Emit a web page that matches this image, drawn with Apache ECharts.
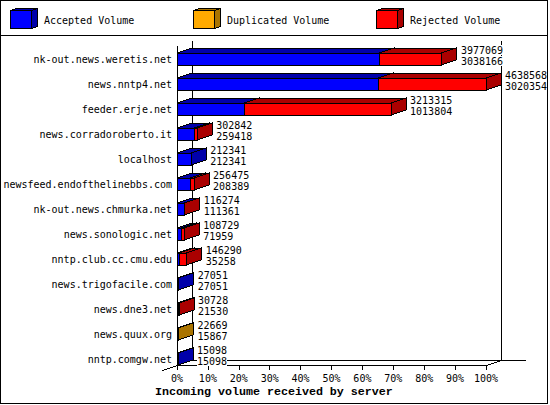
<!DOCTYPE html>
<html><head><meta charset="utf-8">
<style>html,body{margin:0;padding:0;background:#fff}#c{width:550px;height:405px}svg *{shape-rendering:crispEdges}</style>
<script src="https://cdn.jsdelivr.net/npm/echarts@6/dist/echarts.min.js"></script>
</head><body><div id="c"></div>
<script>
const categories = ['nk-out.news.weretis.net','news.nntp4.net','feeder.erje.net','news.corradoroberto.it','localhost','newsfeed.endofthelinebbs.com','nk-out.news.chmurka.net','news.sonologic.net','nntp.club.cc.cmu.edu','news.trigofacile.com','news.dne3.net','news.quux.org','nntp.comgw.net'];
const acceptedVolume = [3038166,3020354,1013804,259418,212341,208389,111361,71959,35258,27051,21530,15867,15098];
const duplicatedVolume = [0,0,0,0,0,0,0,0,0,0,0,6802,0];
const rejectedVolume = [938903,1618214,2199511,43424,0,48086,4913,36770,111032,0,9198,0,0];
const percentTicks = [0,10,20,30,40,50,60,70,80,90,100];
const seriesNames = ['Accepted Volume','Duplicated Volume','Rejected Volume'];
const seriesColors = ['#0000ff','#ffaa00','#ff0000'];
const seriesShades = ['#0000aa','#aa7400','#aa0000'];

const MONO = '"DejaVu Sans Mono", monospace';
const FONT = '10px ' + MONO;
const totals = categories.map((_, i) => acceptedVolume[i] + duplicatedVolume[i] + rejectedVolume[i]);
const maxTotal = Math.max(...totals);
const pct = v => v / maxTotal * 100;
const DX = 14.5, DY = 5, OFF0 = 0.5, OFF1 = 12.5;

function boxSeries(idx, values) {
  const starts = categories.map((_, i) =>
    idx === 0 ? 0 : idx === 1 ? acceptedVolume[i] : acceptedVolume[i] + duplicatedVolume[i]);
  return {
    type: 'custom', name: seriesNames[idx], coordinateSystem: 'cartesian2d', z: 3 + idx, silent: true,
    data: values.map((v, i) => [pct(starts[i]), i, pct(starts[i] + v), v]),
    encode: { x: [0, 2], y: 1 },
    renderItem(params, api) {
      if (api.value(3) <= 0) return null;
      const a = api.coord([api.value(0), api.value(1)]);
      const b = api.coord([api.value(2), api.value(1)]);
      const x0 = Math.floor(a[0]) + 0.5, x1 = Math.floor(b[0]) + 0.5, c = Math.floor(a[1]);
      const t = c + OFF0 + 0.5, bt = c + OFF1 + 0.5;
      const st = { stroke: '#000', lineWidth: 1 };
      return { type: 'group', children: [
        { type: 'polygon', shape: { points: [[x0, t], [x0 + DX, t - DY], [x1 + DX, t - DY], [x1, t]] }, style: { fill: seriesShades[idx], ...st } },
        { type: 'polygon', shape: { points: [[x1, t], [x1 + DX, t - DY], [x1 + DX, bt - DY], [x1, bt]] }, style: { fill: seriesShades[idx], ...st } },
        { type: 'rect', shape: { x: x0, y: t, width: x1 - x0, height: bt - t }, style: { fill: seriesColors[idx], ...st } }
      ] };
    }
  };
}

const frameSeries = {
  type: 'custom', coordinateSystem: 'cartesian2d', z: 1, silent: true, data: [[0, 0]],
  renderItem(params, api) {
    const l = api.coord([0, 0])[0], r = api.coord([100, 0])[0];
    const rect = params.coordSys, top = rect.y, bot = rect.y + rect.height;
    const L = Math.round(l) + 0.5, R = Math.round(r) + 0.5, T = top + 0.5, B = bot + 0.5;
    const line = (x1, y1, x2, y2) => ({ type: 'line', shape: { x1, y1, x2, y2 }, style: { stroke: '#000', lineWidth: 1 } });
    return { type: 'group', children: [
      line(L, T + DY, L, B),
      line(L + DX, T, L + DX, B - DY),
      line(R + DX, T, R + DX, B - DY),
      line(L + DX, B - DY, R + 39, B - DY),
      line(L - 15, B + 5, L, B),
      line(R, B, R + DX, B - DY)
    ] };
  }
};

const labelSeries = {
  type: 'custom', coordinateSystem: 'cartesian2d', z: 10, silent: true,
  data: categories.map((_, i) => [pct(totals[i]), i, totals[i], acceptedVolume[i]]),
  encode: { x: 0, y: 1 },
  renderItem(params, api) {
    const p = api.coord([api.value(0), api.value(1)]);
    const x = p[0] + DX + 4.5, c = Math.floor(p[1]);
    const mk = (txt, y) => ({ type: 'text', style: { text: String(txt), x, y, font: FONT, fill: '#000', verticalAlign: 'middle', align: 'left', backgroundColor: '#fff' } });
    return { type: 'group', children: [mk(api.value(2), c - 2), mk(api.value(3), c + 9)] };
  }
};

function legendCube(x, idx) {
  const y = 10, w = 21, h = 18, dx = 6, dy = 2;
  const st = { stroke: '#000', lineWidth: 1 };
  return { type: 'group', x: x + 0.5, y: y + 0.5, children: [
    { type: 'polygon', shape: { points: [[0, 0], [dx, -dy], [w + dx, -dy], [w, 0]] }, style: { fill: seriesShades[idx], ...st } },
    { type: 'polygon', shape: { points: [[w, 0], [w + dx, -dy], [w + dx, h - dy], [w, h]] }, style: { fill: seriesShades[idx], ...st } },
    { type: 'rect', shape: { x: 0, y: 0, width: w, height: h }, style: { fill: seriesColors[idx], ...st } }
  ] };
}
const legendX = [10, 193, 376];

const chart = echarts.init(document.getElementById('c'), null, { renderer: 'svg', width: 550, height: 405 });
chart.setOption({
  animation: false, backgroundColor: '#fff',
  grid: { left: 177, top: 40, width: 309, height: 325, containLabel: false },
  title: { text: 'Incoming volume received by server', left: 155, top: 386, padding: 0,
    textStyle: { fontFamily: '"Liberation Mono", monospace', fontWeight: 'bold', fontSize: 11.67, color: '#000' } },
  xAxis: { type: 'value', min: 0, max: 100, interval: 10, splitLine: { show: false },
    axisLine: { show: true, onZero: false, lineStyle: { color: '#000', width: 1 } },
    axisTick: { show: true, length: 5, lineStyle: { color: '#000', width: 1 } },
    axisLabel: { formatter: v => percentTicks.includes(v) ? v + '%' : '', color: '#000', fontFamily: MONO, fontSize: 10, margin: 8, showMinLabel: true, showMaxLabel: true } },
  yAxis: { type: 'category', data: categories, inverse: true, axisLine: { show: false }, axisTick: { show: false },
    axisLabel: { color: '#000', fontFamily: MONO, fontSize: 10, margin: 5, interval: 0, verticalAlign: 'top', padding: [2, 0, 0, 0] } },
  series: [frameSeries, boxSeries(0, acceptedVolume), boxSeries(1, duplicatedVolume), boxSeries(2, rejectedVolume), labelSeries],
  graphic: [
    { type: 'rect', silent: true, shape: { x: 0.5, y: 0.5, width: 547, height: 403 }, style: { fill: 'none', stroke: '#000', lineWidth: 1 } },
    { type: 'line', silent: true, shape: { x1: 0, y1: 35.5, x2: 548, y2: 35.5 }, style: { stroke: '#000', lineWidth: 1 } },
    ...seriesNames.flatMap((n, i) => [
      legendCube(legendX[i], i),
      { type: 'text', silent: true, style: { text: n, x: legendX[i] + 34, y: 20, font: FONT, fill: '#000', verticalAlign: 'middle' } }
    ])
  ]
});
</script></body></html>
